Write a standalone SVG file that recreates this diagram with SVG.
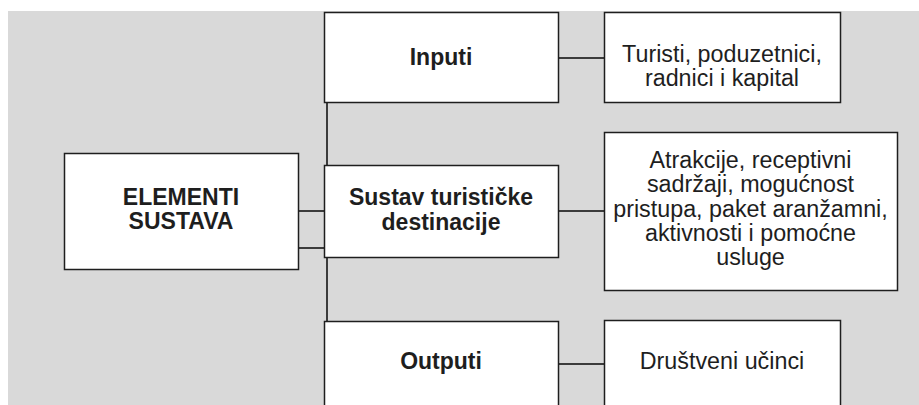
<svg xmlns="http://www.w3.org/2000/svg" width="919" height="405" viewBox="0 0 919 405">
<style>
.box{fill:#ffffff;stroke:#1e1e1e;stroke-width:1.5}
.conn{stroke:#3c3c3c;stroke-width:2;fill:none}
.b{font-family:"Liberation Sans",Arial,sans-serif;font-weight:bold;font-size:23px;fill:#1e1e1e;text-anchor:middle}
.r{font-family:"Liberation Sans",Arial,sans-serif;font-size:23.3px;fill:#1e1e1e;text-anchor:middle}
</style>
<rect x="8" y="11" width="911" height="394" fill="#d9d9d9"/>
<g id="connectors">
<line class="conn" x1="327" y1="102" x2="327" y2="165"/>
<line class="conn" x1="327" y1="257" x2="327" y2="321"/>
<line class="conn" x1="298" y1="211" x2="324" y2="211"/>
<line class="conn" x1="298" y1="248" x2="324" y2="248"/>
<line class="conn" x1="558" y1="58" x2="604" y2="58"/>
<line class="conn" x1="558" y1="211" x2="604" y2="211"/>
<line class="conn" x1="558" y1="364" x2="604" y2="364"/>
</g>
<g id="elementi">
<rect class="box" x="64.5" y="153.5" width="234" height="116"/>
<text class="b" x="181" y="205">ELEMENTI</text>
<text class="b" x="181" y="229">SUSTAVA</text>
</g>
<g id="inputi">
<rect class="box" x="324.5" y="12.5" width="234" height="90"/>
<text class="b" x="441" y="65">Inputi</text>
</g>
<g id="turisti">
<rect class="box" x="604.5" y="12.5" width="236" height="90"/>
<text class="r" x="722" y="62">Turisti, poduzetnici,</text>
<text class="r" x="722" y="86">radnici i kapital</text>
</g>
<g id="sustav">
<rect class="box" x="324.5" y="165.5" width="234" height="92"/>
<text class="b" x="441" y="205">Sustav turističke</text>
<text class="b" x="441" y="230">destinacije</text>
</g>
<g id="atrakcije">
<rect class="box" x="604.5" y="132.5" width="293" height="158"/>
<text class="r" x="750.5" y="168">Atrakcije, receptivni</text>
<text class="r" x="750.5" y="192">sadržaji, mogućnost</text>
<text class="r" x="750.5" y="217">pristupa, paket aranžamni,</text>
<text class="r" x="750.5" y="241">aktivnosti i pomoćne</text>
<text class="r" x="750.5" y="265">usluge</text>
</g>
<g id="outputi">
<rect class="box" x="324.5" y="321.5" width="234" height="100"/>
<text class="b" x="441" y="369">Outputi</text>
</g>
<g id="drustveni">
<rect class="box" x="604.5" y="320.5" width="236" height="100"/>
<text class="r" x="722" y="369">Društveni učinci</text>
</g>
</svg>
